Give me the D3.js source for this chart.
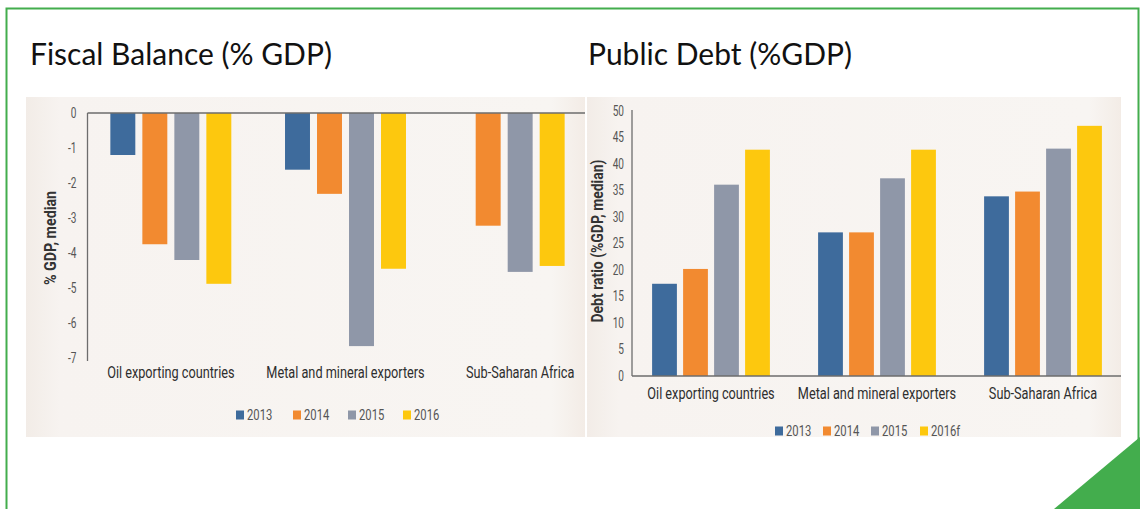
<!DOCTYPE html>
<html>
<head>
<meta charset="utf-8">
<script src="https://cdn.jsdelivr.net/npm/d3@7/dist/d3.min.js"></script>
<style>
  html, body { margin: 0; padding: 0; background: #ffffff; }
  svg { display: block; }
  .cond { font-family: "Roboto", "Liberation Sans", sans-serif; }
  .title { font-family: "Lato", "Open Sans", sans-serif; font-size: 30px; fill: #111; }
</style>
</head>
<body>
<svg id="chart" width="1140" height="509"></svg>
<script>
// Groups shown on both charts
const categories = ["Oil exporting countries", "Metal and mineral exporters", "Sub-Saharan Africa"];

// Fiscal balance, % of GDP (median); Sub-Saharan Africa has no 2013 figure
const fiscalYears = ["2013", "2014", "2015", "2016"];
const fiscal2013 = [-1.2, -1.62, null];
const fiscal2014 = [-3.75, -2.31, -3.22];
const fiscal2015 = [-4.2, -6.66, -4.54];
const fiscal2016 = [-4.88, -4.45, -4.37];
const fiscalTicks = [0, -1, -2, -3, -4, -5, -6, -7];

// Public debt, % of GDP (median)
const debtYears = ["2013", "2014", "2015", "2016f"];
const debt2013 = [17.4, 27.1, 33.9];
const debt2014 = [20.2, 27.1, 34.8];
const debt2015 = [36.1, 37.3, 42.9];
const debt2016 = [42.7, 42.7, 47.2];
const debtTicks = [0, 5, 10, 15, 20, 25, 30, 35, 40, 45, 50];

const seriesColors = ["#3e6b9c", "#f28a30", "#8f97a8", "#fdc80e"];

const svg = d3.select("#chart");

// narrow a text run horizontally around its own anchor point
function squeeze(sel, k) {
  sel.each(function () {
    const t = d3.select(this);
    const x = +t.attr("x") || 0, y = +t.attr("y") || 0;
    const base = t.attr("transform") || "";
    t.attr("transform", `${base} translate(${x},${y}) scale(${k},1) translate(${-x},${-y})`);
  });
}

// Outer frame and corner accent
const green = "#43ad4d";
svg.append("path")
  .attr("d", "M6.5,509 L6.5,8.5 L1138.5,8.5 L1138.5,440")
  .attr("fill", "none").attr("stroke", green).attr("stroke-width", 2);
svg.append("polygon")
  .attr("points", "1140,437 1054,509 1140,509")
  .attr("fill", green);

// Panel titles
svg.append("text").attr("class", "title").attr("x", 30).attr("y", 65).text("Fiscal Balance (% GDP)");
svg.append("text").attr("class", "title").attr("x", 588).attr("y", 65).text("Public Debt (%GDP)");

// Panel backgrounds
const defs = svg.append("defs");
const grad = defs.append("linearGradient").attr("id", "panelBg").attr("x1", 0).attr("x2", 1).attr("y1", 0).attr("y2", 0);
grad.append("stop").attr("offset", 0).attr("stop-color", "#f2ece7");
grad.append("stop").attr("offset", 0.06).attr("stop-color", "#f7f3f0");
grad.append("stop").attr("offset", 0.94).attr("stop-color", "#f8f5f2");
grad.append("stop").attr("offset", 1).attr("stop-color", "#f3ece6");

svg.append("rect").attr("x", 26).attr("y", 97).attr("width", 559).attr("height", 340).attr("fill", "url(#panelBg)");
svg.append("rect").attr("x", 587).attr("y", 97).attr("width", 534).attr("height", 340).attr("fill", "url(#panelBg)");

const tickFmt = d => String(d);   // plain hyphen for negatives

function groupedBars(g, opts) {
  const x = d3.scaleBand().domain(categories).range(opts.xRange).paddingInner(0).paddingOuter(0);
  const y = d3.scaleLinear().domain(opts.yDomain).range(opts.yRange);

  // bars: each category places only the series it has, centred on the category
  categories.forEach((cat, ci) => {
    const present = opts.keys.map((k, si) => ({ key: k, si, v: opts.series[si][ci] })).filter(d => d.v !== null);
    const cx = x(cat) + x.bandwidth() / 2;
    const half = opts.barStep * present.length / 2;
    const inner = d3.scaleBand().domain(present.map(d => d.key))
      .range([cx - half, cx + half]).paddingInner(opts.pad).paddingOuter(opts.pad / 2);
    g.selectAll(null).data(present).enter().append("rect")
      .attr("x", d => inner(d.key))
      .attr("width", inner.bandwidth())
      .attr("y", d => Math.min(y(0), y(d.v)))
      .attr("height", d => Math.abs(y(d.v) - y(0)))
      .attr("fill", d => seriesColors[d.si]);
  });

  // value axis
  const ax = g.append("g")
    .attr("transform", `translate(${opts.axisX},0)`)
    .call(d3.axisLeft(y).tickValues(opts.ticks).tickSize(0).tickPadding(opts.tickPad).tickFormat(tickFmt));
  ax.select(".domain").attr("stroke", "#6d6d6d").attr("stroke-width", 1.3)
    .attr("d", `M0,${opts.axisTop}V${opts.axisBottom}`);
  const tt = ax.selectAll(".tick text").attr("fill", "#555").attr("font-size", 14)
    .attr("font-family", "Roboto, sans-serif");
  squeeze(tt, 0.72);

  // category baseline
  g.append("line").attr("x1", opts.axisX).attr("x2", opts.baseEnd)
    .attr("y1", y(0)).attr("y2", y(0)).attr("stroke", "#6d6d6d").attr("stroke-width", 1.3);

  // category labels
  const cl = g.selectAll(null).data(categories).enter().append("text").attr("class", "cond")
    .attr("x", d => x(d) + x.bandwidth() / 2)
    .attr("y", opts.catY)
    .attr("text-anchor", "middle")
    .attr("font-size", 16.5)
    .attr("fill", "#2e2e2e")
    .text(d => d);
  squeeze(cl, 0.77);

  // axis title
  const at = g.append("text").attr("class", "cond")
    .attr("transform", `translate(${opts.titleX},${opts.titleY}) rotate(-90)`)
    .attr("text-anchor", "middle")
    .attr("font-size", 17).attr("font-weight", "bold").attr("fill", "#333")
    .text(opts.yTitle);
  squeeze(at, opts.titleSqueeze);

  // legend
  const lg = g.append("g").attr("class", "cond");
  opts.keys.forEach((k, i) => {
    const lx = opts.legendX[i];
    lg.append("rect").attr("x", lx).attr("y", opts.legendY - 4.5).attr("width", 8).attr("height", 9).attr("fill", seriesColors[i]);
    const t = lg.append("text").attr("x", lx + 11).attr("y", opts.legendY + 5.5)
      .attr("font-size", 15).attr("fill", "#555").text(k);
    squeeze(t, 0.75);
  });
}

groupedBars(svg.append("g"), {
  keys: fiscalYears,
  series: [fiscal2013, fiscal2014, fiscal2015, fiscal2016],
  xRange: [83.5, 607.5],
  yDomain: [0, -7], yRange: [113, 358],
  ticks: fiscalTicks,
  axisX: 87.5, axisTop: 113, axisBottom: 361, baseEnd: 585,
  tickPad: 11,
  barStep: 32, pad: 0.22,
  catY: 378,
  titleX: 56, titleY: 238, yTitle: "% GDP, median", titleSqueeze: 0.84,
  legendX: [236, 293, 348, 403], legendY: 415
});

groupedBars(svg.append("g"), {
  keys: debtYears,
  series: [debt2013, debt2014, debt2015, debt2016],
  xRange: [628, 1126],
  yDomain: [0, 50], yRange: [376, 111],
  ticks: debtTicks,
  axisX: 632, axisTop: 110, axisBottom: 376, baseEnd: 1121,
  tickPad: 8,
  barStep: 31, pad: 0.2,
  catY: 399,
  titleX: 603, titleY: 241, yTitle: "Debt ratio (%GDP, median)", titleSqueeze: 0.82,
  legendX: [775, 823, 871, 920], legendY: 431
});
</script>
</body>
</html>
